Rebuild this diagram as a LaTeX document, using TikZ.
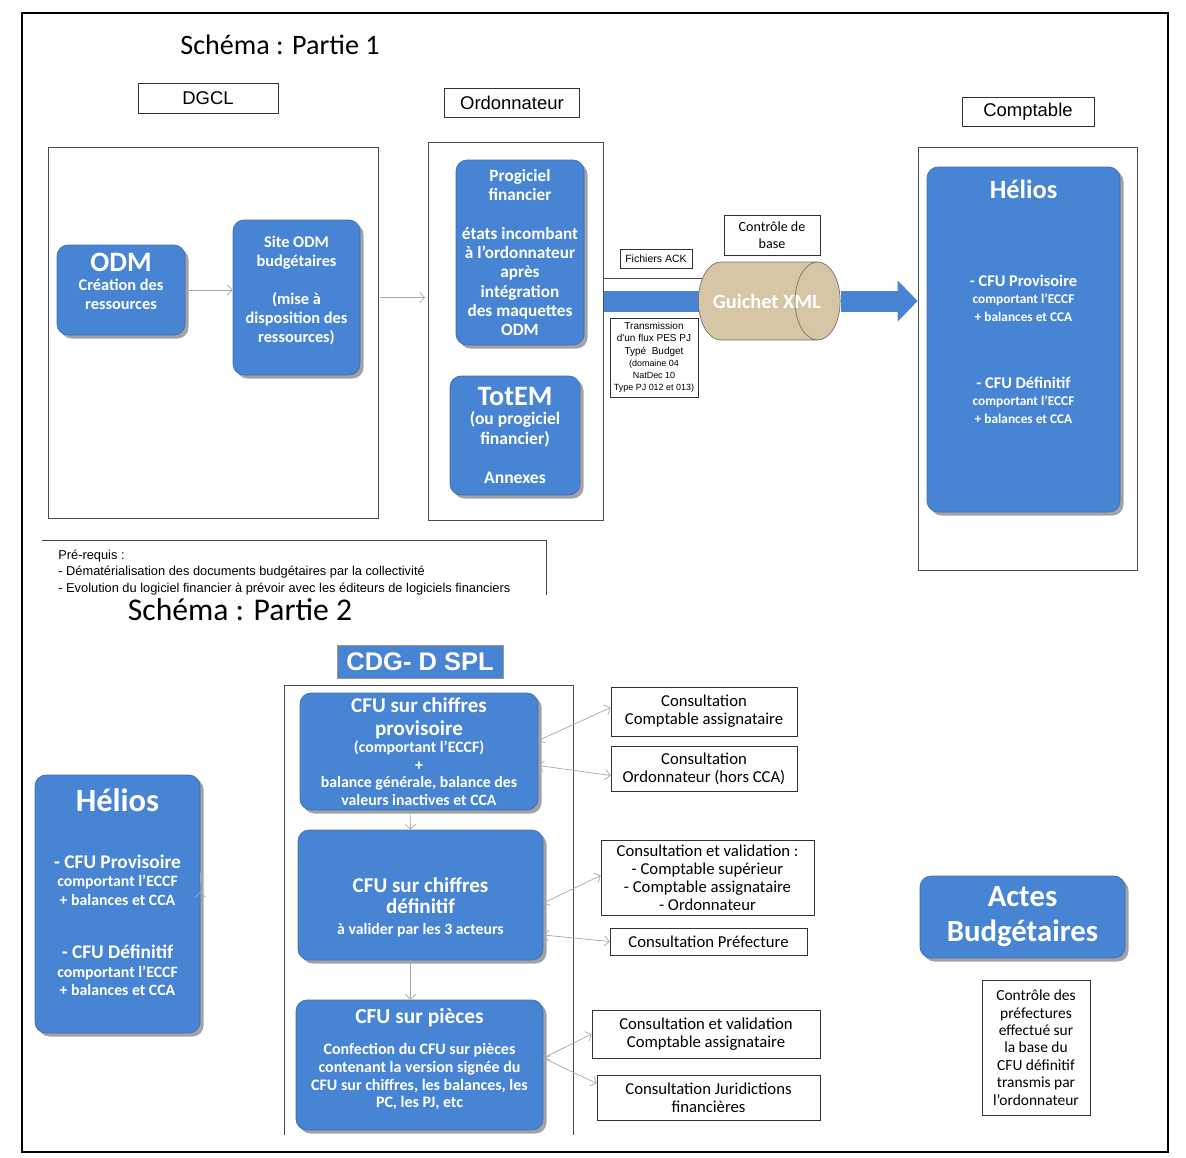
\documentclass[tikz,border=0pt]{standalone}
\usepackage{fontspec}
\setmainfont{Carlito}
\newfontfamily\arialfont{Liberation Sans}
\usetikzlibrary{
  positioning,       % relative placement
  calc,              % shifted points
  shapes.geometric,  % cylinder of the guichet
  shadows,           % shadows of the blue boxes
  arrows.meta        % barbs and triangle tips
}
\newcommand\fsz[2]{\fontsize{#1pt}{#2pt}\selectfont}
\definecolor{boxblue}{RGB}{72,132,212}
\definecolor{guichet}{RGB}{214,198,165}
\definecolor{linkgray}{RGB}{168,168,168}
\tikzset{
  sz/.style 2 args = {minimum width=#1*0.02cm, minimum height=#2*0.02cm},
  blk/.style = {
    rectangle,
    rounded corners=0.22cm,
    fill=boxblue,
    draw=boxblue!85!black,
    text=white,
    align=center,
    inner sep=0pt,
    drop shadow={shadow xshift=2pt, shadow yshift=-2pt, fill=black!45, opacity=0.8}
  },
  lbl/.style = {rectangle, draw=black!80, fill=white, inner sep=0pt, align=center},
  zone/.style = {draw=black!70},
  cons/.style = {rectangle, draw=black!80, inner sep=0pt, align=center, font=\fsz{9.5}{10.3}},
  link/.style = {draw=linkgray, ->},
  dlink/.style = {draw=linkgray, <->},
  band/.style = {draw=boxblue, line width=0.42cm},
  >={Straight Barb[length=2.8pt,width=6pt]}
}
\pgfdeclarelayer{background}
\pgfsetlayers{background,main}

\begin{document}
\begin{tikzpicture}[x=0.02cm, y=-0.02cm]
  \useasboundingbox (0,0) rectangle (1186,1157);

  %% frame
  \draw[line width=1.5pt] (22,13) rectangle (1168,1152);

  %% part 1 : headers
  \node[font=\fsz{16}{19}] (T1) at (280,45) {Schéma : Partie 1};
  \node[lbl, sz={140}{30}, font=\arialfont\fsz{10.5}{12}] (DGCL) at (208,98) {DGCL};
  \node[lbl, sz={135}{29}, font=\arialfont\fsz{10.5}{12}] (ORD) at (512,102.5) {Ordonnateur};
  \node[lbl, sz={132}{29}, font=\arialfont\fsz{10.5}{12}] (CPT) at (1028,111.5) {Comptable};

  %% part 1 : zones
  \node[zone, sz={330}{371}] (ZD) at (213,332.5) {};
  \node[zone, sz={175}{378}] (ZO) at (515.5,331) {};
  \node[zone, sz={219}{423}] (ZC) at (1027.5,358.5) {};

  %% part 1 : nodes
  \node[blk, sz={128}{90}, font=\bfseries\fsz{9.3}{11}] (ODM) at (121,290)
    {{\fsz{16}{16}ODM}\\Création des\\ressources\\[-1pt]\mbox{}};
  \node[blk, sz={127}{155}, font=\bfseries\fsz{9.3}{10.8}] (SODM) at (296.5,297.5)
    {Site ODM\\budgétaires\\[10.8pt](mise à\\disposition des\\ressources)\\[-1pt]\mbox{}};
  \node[blk, sz={128}{185}, font=\bfseries\fsz{9.8}{11}] (PF) at (520,252.5)
    {Progiciel\\financier\\[11pt]états incombant\\à l'ordonnateur\\après\\intégration\\des maquettes\\ODM};
  \node[blk, sz={130}{119}, font=\bfseries\fsz{10}{11}] (TE) at (515,435.5)
    {{\fsz{16}{16}TotEM}\\(ou progiciel\\financier)\\[11.5pt]Annexes};
  \node[blk, sz={193}{345}, font=\bfseries\fsz{9.3}{10}] (HE) at (1023.5,339.5)
    {{\fsz{15}{15}Hélios}\\[40pt]
     - CFU Provisoire\\
     {\fsz{7.6}{10}comportant l'ECCF}\\
     {\fsz{7.6}{10}+ balances et CCA}\\[28pt]
     - CFU Définitif\\
     {\fsz{7.6}{10}comportant l'ECCF}\\
     {\fsz{7.6}{10}+ balances et CCA}\\[33pt]\mbox{}};

  \node[lbl, sz={72}{19}, font=\arialfont\fsz{6}{7}] (ACK) at (656,258.5) {Fichiers ACK};
  \node[lbl, sz={96}{40}, font=\fsz{8}{10}] (CB) at (772,235) {Contrôle de\\base};
  \node[lbl, sz={88}{79}, font=\arialfont\fsz{5.7}{7}] (TR) at (654,357.5)
    {Transmission\\d'un flux PES PJ\\Typé~ Budget\\
     {\fsz{5.1}{6}(domaine 04}\\{\fsz{5.1}{6}NatDec 10}\\{\fsz{5.1}{6}Type PJ 012 et 013)}};
  \node[cylinder, shape border rotate=0, aspect=0.7, sz={78}{90}, draw=black!55,
        fill=guichet, text=white, inner xsep=0pt, inner ysep=0.5cm, anchor=west,
        font=\bfseries\fsz{11.6}{13}] (GX) at (698,301)
    {\hspace*{0.26cm}Guichet XML\hspace*{-0.52cm}};
  \coordinate (ACKL) at ($(GX.west)+(0,-23)$);

  %% part 1 : arrows
  \draw[link] (ODM.east) -- (ODM.east -| SODM.west);
  \draw[link, shorten <=1pt, shorten >=1.5pt] (SODM.east -| ZD.east) -- (SODM.east -| ZO.west);
  \begin{pgfonlayer}{background}
    \draw[band] (ZO.east |- GX.west) -- (GX.center);
    \draw[black!70] (ZO.east |- ACKL) -- (ACKL -| GX.center);
  \end{pgfonlayer}
  \draw[band, -{Triangle[width=0.8cm,length=0.4cm]}] (GX.east) -- (GX.east -| ZC.west);

  %% prerequisites
  \draw[zone] (42,540) -- (546,540) -- (546,595);
  \node[anchor=north west, align=left, inner sep=0pt, font=\arialfont\fsz{7.3}{9.2}] (PRQ) at (58,550)
    {Pré-requis :\\- Dématérialisation des documents budgétaires par la collectivité\\- Evolution du logiciel financier à prévoir avec les éditeurs de logiciels financiers};

  %% part 2 : nodes
  \node[font=\fsz{18}{21}] (T2) at (240,610) {Schéma : Partie 2};
  \node[rectangle, fill=boxblue, draw=black!40, sz={166}{33}, inner sep=0pt, text=white,
        font=\arialfont\bfseries\fsz{14.5}{16}] (CDG) at (420,661.5) {CDG- D SPL};
  \draw[zone] (284,1135) |- (573,685) -- (573,1135);

  \node[blk, sz={238}{117}, font=\bfseries\fsz{9}{10}] (CP) at (419,751.5)
    {{\fsz{12}{13}CFU sur chiffres}\\[3pt]{\fsz{12}{13}provisoire}\\(comportant l'ECCF)\\+\\
     balance générale, balance des\\valeurs inactives et CCA};
  \node[blk, sz={245}{130}, font=\bfseries\fsz{9}{12}] (CD) at (420.5,895)
    {\rule{0pt}{22pt}{\fsz{12}{13}CFU sur chiffres}\\{\fsz{12}{13}définitif}\\à valider par les 3 acteurs};
  \node[blk, sz={247}{130}, font=\bfseries\fsz{9.1}{10}] (CPI) at (419.5,1065)
    {{\fsz{12.2}{13}CFU sur pièces}\\[8pt]Confection du CFU sur pièces\\contenant la version signée du\\
     CFU sur chiffres, les balances, les\\PC, les PJ, etc\\[-2pt]\mbox{}};
  \node[blk, sz={165}{258}, font=\bfseries\fsz{11}{10.5}] (HE2) at (117.5,904)
    {{\fsz{18.5}{20}Hélios}\\[22pt]
     - CFU Provisoire\\
     {\fsz{9}{10.5}comportant l'ECCF}\\
     {\fsz{9}{10.5}+ balances et CCA}\\[20pt]
     - CFU Définitif\\
     {\fsz{9}{10.5}comportant l'ECCF}\\
     {\fsz{9}{10.5}+ balances et CCA}\\[3pt]\mbox{}};

  \node[cons, sz={186}{49}] (C1) at (704,711.5) {Consultation\\Comptable assignataire};
  \node[cons, sz={186}{45}] (C2) at (704,768.5) {Consultation\\Ordonnateur (hors CCA)};
  \node[cons, sz={213}{75}] (C3) at (707.5,877.5)
    {Consultation et validation :\\- Comptable supérieur\\- Comptable assignataire\\- Ordonnateur};
  \node[cons, sz={197}{27}] (C4) at (708.5,941.5) {Consultation Préfecture};
  \node[cons, sz={228}{48}] (C5) at (706,1034) {Consultation et validation\\Comptable assignataire};
  \node[cons, sz={223}{45}] (C6) at (708.5,1097.5) {Consultation Juridictions\\financières};

  \node[blk, sz={205}{82}, font=\bfseries\fsz{17.5}{20}] (AB) at (1022.5,917) {Actes\\Budgétaires};
  \node[cons, sz={108}{135}, font=\fsz{8.8}{9.9}] (CTP) at (1036,1047.5)
    {Contrôle des\\préfectures\\effectué sur\\la base du\\CFU définitif\\transmis par\\l'ordonnateur};

  %% part 2 : arrows
  \draw[link, shorten >=5pt] ($(HE2.east)+(0,-21)$) -- ($(HE2.east)+(0,-21)$ -| CD.west);
  \draw[link] ($(CP.south)+(-9,0)$) -- ($(CD.north)+(-10,0)$);
  \draw[link] ($(CD.south)+(-10,0)$) -- ($(CPI.north)+(-9,0)$);

  \draw[dlink] ($(CP.east)+(0,-11)$) -- ($(C1.west)+(0,-4)$);
  \draw[dlink] ($(CP.east)+(0,14)$) -- ($(C2.west)+(0,7)$);
  \draw[dlink] ($(CD.east)+(0,8)$) -- ($(C3.west)+(0,-2)$);
  \draw[dlink] ($(CD.east)+(0,40)$) -- (C4.west);
  \draw[dlink] ($(CPI.east)+(0,-7)$) -- (C5.west);
  \draw[dlink] ($(CPI.east)+(0,-7)$) -- ($(C6.west)+(0,-14)$);

\end{tikzpicture}
\end{document}
